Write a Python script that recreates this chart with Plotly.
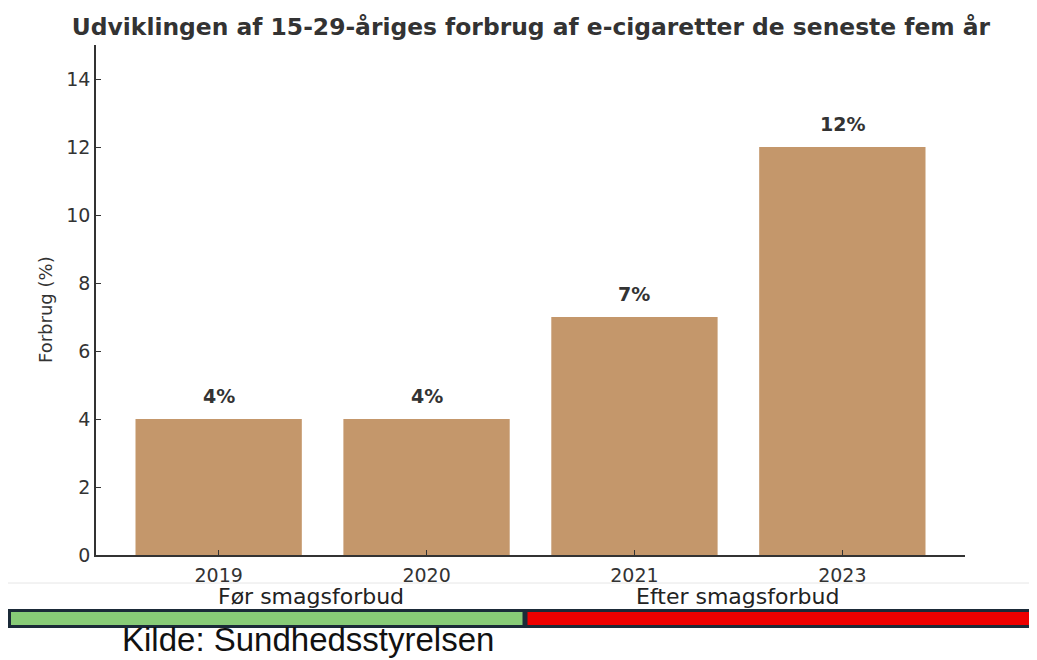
import plotly.graph_objects as go

years = ["2019", "2020", "2021", "2023"]
values = [4, 4, 7, 12]
value_labels = ["4%", "4%", "7%", "12%"]
y_ticks = [0, 2, 4, 6, 8, 10, 12, 14]
periods = ["Før smagsforbud", "Efter smagsforbud"]
title_text = "Udviklingen af 15-29-åriges forbrug af e-cigaretter de seneste fem år"
y_title = "Forbrug (%)"
source_text = "Kilde: Sundhedsstyrelsen"

# page body has an 8px margin; work in reference (window) pixel coordinates
OFF = 8
W, H = 1037 - OFF, 660 - OFF
L, R, T, B = 96, 965, 45, 555
pw, ph = R - L, B - T


def px(x):
    return (x - L) / pw


def py(y):
    return (B - y) / ph


TXT = "#333333"
xs = list(range(len(years)))

fig = go.Figure()
fig.add_trace(go.Bar(
    x=xs, y=values, width=0.8,
    marker=dict(color="#C4976B", line=dict(width=0)),
    hoverinfo="skip",
))

for xi, v, lab in zip(xs, values, value_labels):
    fig.add_annotation(x=xi, y=v, text=f"<b>{lab}</b>", showarrow=False,
                       yanchor="bottom", yshift=10,
                       font=dict(family="DejaVu Sans", size=19, color=TXT))

fig.update_layout(
    width=W, height=H,
    margin=dict(l=L - OFF, r=1037 - R, t=T - OFF, b=660 - B, pad=0),
    paper_bgcolor="white", plot_bgcolor="white",
    showlegend=False,
    font=dict(family="DejaVu Sans", color=TXT),
    title=dict(text=f"<b>{title_text}</b>", x=px(531), xref="paper", xanchor="center",
               y=1 - (27 - OFF) / H, yanchor="middle",
               font=dict(family="DejaVu Sans", size=23.4, color=TXT)),
    xaxis=dict(range=[-0.59, 3.59], tickmode="array", tickvals=xs, ticktext=years,
               showline=True, linecolor=TXT, linewidth=1.5, mirror=False,
               ticks="inside", ticklen=5, tickcolor=TXT, showgrid=False, zeroline=False,
               ticklabelstandoff=2,
               tickfont=dict(family="DejaVu Sans", size=19, color=TXT), fixedrange=True),
    yaxis=dict(range=[0, 15], tickmode="array", tickvals=y_ticks,
               showline=True, linecolor=TXT, linewidth=1.5,
               ticks="inside", ticklen=5, tickcolor=TXT, showgrid=False, zeroline=False,
               tickfont=dict(family="DejaVu Sans", size=19, color=TXT), fixedrange=True),
)

fig.add_annotation(x=px(46), y=py(310), xref="paper", yref="paper", text=y_title,
                   textangle=-90, showarrow=False, xanchor="center", yanchor="middle",
                   font=dict(family="DejaVu Sans", size=18, color=TXT))

# faint separator line
fig.add_shape(type="line", xref="paper", yref="paper", x0=px(0), x1=px(1040), y0=py(583), y1=py(583),
              line=dict(color="#e6e6e6", width=1))

# period labels
fig.add_annotation(x=px(311), y=py(596), xref="paper", yref="paper", text=periods[0],
                   showarrow=False, xanchor="center", yanchor="middle",
                   font=dict(family="DejaVu Sans", size=22, color="#222222"))
fig.add_annotation(x=px(737), y=py(596), xref="paper", yref="paper", text=periods[1],
                   showarrow=False, xanchor="center", yanchor="middle",
                   font=dict(family="DejaVu Sans", size=22, color="#222222"))

# period bands
fig.add_shape(type="rect", xref="paper", yref="paper", x0=px(9.5), x1=px(524), y0=py(626.5), y1=py(610.5),
              fillcolor="#88CC77", line=dict(color="#1B2A38", width=3))
fig.add_shape(type="rect", xref="paper", yref="paper", x0=px(526), x1=px(1045), y0=py(626.5), y1=py(610.5),
              fillcolor="#EE0000", line=dict(color="#1B2A38", width=3))

fig.add_annotation(x=px(120), y=py(659.5), xref="paper", yref="paper", text=source_text,
                   showarrow=False, xanchor="left", yanchor="bottom",
                   font=dict(family="Liberation Sans Narrow, Liberation Sans", size=33, color="#111111"))

fig.write_html("out.html")
